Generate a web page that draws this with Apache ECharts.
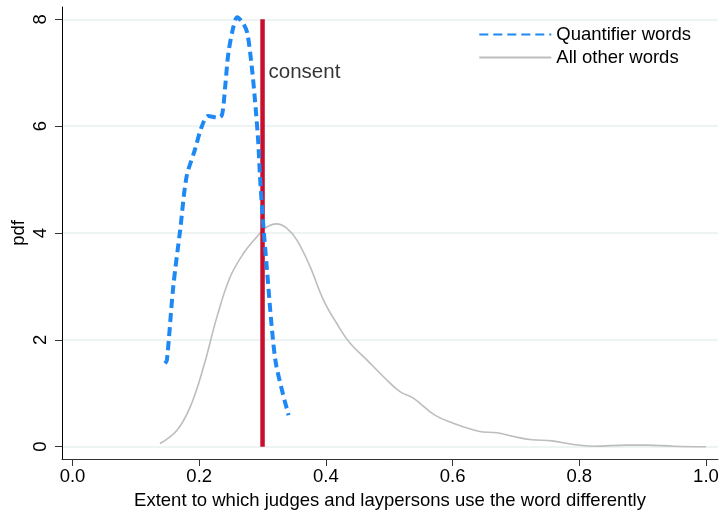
<!DOCTYPE html>
<html><head><meta charset="utf-8">
<script src="https://cdn.jsdelivr.net/npm/echarts@6/dist/echarts.min.js"></script>
<style>html,body{margin:0;padding:0;background:#fff}#c{width:720px;height:513px}</style>
</head><body><div id="c"></div>
<script>
const xTicks = [0, 0.2, 0.4, 0.6, 0.8, 1.0];
const yTicks = [0, 2, 4, 6, 8];
const quantX = [0.146,0.149,0.159,0.170,0.180,0.193,0.204,0.214,0.230,0.236,0.241,0.246,0.254,0.260,0.270,0.276,0.283,0.288,0.293,0.296,0.301,0.307,0.315,0.322,0.341];
const quantY = [1.56,1.62,2.99,4.06,5.05,5.55,5.99,6.19,6.16,6.21,6.74,7.36,7.86,8.04,7.91,7.74,7.11,6.49,5.74,5.05,4.18,3.31,2.18,1.50,0.59];
const otherX = [0.138,0.165,0.186,0.207,0.228,0.249,0.270,0.291,0.304,0.322,0.338,0.354,0.375,0.396,0.417,0.438,0.465,0.491,0.517,0.538,0.572,0.601,0.641,0.670,0.696,0.725,0.757,0.791,0.822,0.875,0.907,0.949,1.0];
const otherY = [0.06,0.31,0.75,1.50,2.43,3.18,3.62,3.93,4.09,4.17,4.09,3.87,3.37,2.75,2.31,1.94,1.62,1.31,1.03,0.91,0.59,0.44,0.29,0.26,0.19,0.13,0.11,0.04,0.01,0.03,0.03,0.01,0.0];
const consentX = 0.3;
const consentY = [0, 8];
const consentLabelY = 7.0;
const seriesNames = ['Quantifier words', 'All other words'];
const xTitle = 'Extent to which judges and laypersons use the word differently';
const yTitle = 'pdf';

const font = 'Liberation Sans, Arial, Helvetica, sans-serif';
const chart = echarts.init(document.getElementById('c'), null, {renderer: 'canvas'});
chart.setOption({
  animation: false,
  textStyle: {fontFamily: font},
  grid: {left: 62, right: 2, top: 7, bottom: 54, outerBoundsMode: 'none', containLabel: false},
  legend: {
    right: 24, top: 20, orient: 'vertical', itemGap: 4,
    itemWidth: 72, itemHeight: 14,
    itemStyle: {opacity: 0},
    textStyle: {fontSize: 18.5, color: '#000', fontFamily: font},
    data: seriesNames
  },
  xAxis: {
    type: 'value', min: -0.0166, max: 1.019,
    axisLine: {show: true, onZero: false, lineStyle: {color: '#333', width: 1}},
    axisTick: {show: true, length: 7, lineStyle: {color: '#333'}, customValues: xTicks},
    axisLabel: {fontSize: 18.5, color: '#000', margin: 8, customValues: xTicks,
      formatter: v => v.toFixed(1)},
    splitLine: {show: false},
    name: xTitle, nameLocation: 'middle', nameGap: 32, nameMoveOverlap: false,
    nameTextStyle: {fontSize: 18.5, color: '#000'}
  },
  yAxis: {
    type: 'value', min: -0.23, max: 8.23,
    axisLine: {show: true, onZero: false, lineStyle: {color: '#000', width: 1}},
    axisTick: {show: true, length: 7, lineStyle: {color: '#333'}, customValues: yTicks},
    axisLabel: {fontSize: 18.5, color: '#000', rotate: 90, margin: 12, customValues: yTicks},
    splitLine: {show: true, lineStyle: {color: '#e8eff1', width: 1.5}},
    name: yTitle, nameLocation: 'middle', nameGap: 34, nameRotate: 90, nameMoveOverlap: false,
    nameTextStyle: {fontSize: 18.5, color: '#000'}
  },
  series: [
    {
      name: seriesNames[1], type: 'line', symbol: 'none', smooth: 0.4,
      data: otherX.map((x, i) => [x, otherY[i]]),
      lineStyle: {color: '#bdbdbd', width: 1.6}, itemStyle: {color: '#bdbdbd'}, z: 2
    },
    {
      name: 'consent', type: 'line', symbol: 'none',
      data: consentY.map(y => [consentX, y]),
      lineStyle: {color: '#c8102e', width: 4.5}, itemStyle: {color: '#c8102e'}, z: 3
    },
    {
      name: seriesNames[0], type: 'line', symbol: 'none', smooth: 0.3,
      data: quantX.map((x, i) => [x, quantY[i]]),
      lineStyle: {color: '#1e88f5', width: 4, type: [9, 5]}, itemStyle: {color: '#1e88f5'}, z: 4
    },
    {
      type: 'scatter', symbolSize: 0, silent: true,
      data: [[consentX, consentLabelY]],
      label: {show: true, position: 'right', distance: 6, formatter: 'consent', fontSize: 20.5, color: '#000'}
    }
  ]
});
</script></body></html>
